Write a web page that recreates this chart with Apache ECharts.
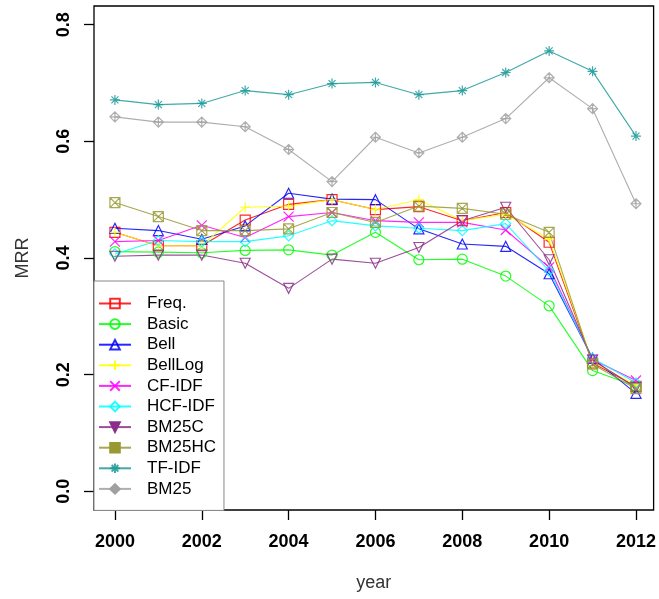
<!DOCTYPE html>
<html>
<head>
<meta charset="utf-8">
<script src="https://cdn.jsdelivr.net/npm/echarts@6/dist/echarts.min.js"></script>
<style>
html,body{margin:0;padding:0;background:#fff;}
#chart{width:659px;height:599px;}
</style>
</head>
<body>
<div id="chart"></div>
<script>
const years = [2000,2001,2002,2003,2004,2005,2006,2007,2008,2009,2010,2011,2012];
const xTicks = [2000,2002,2004,2006,2008,2010,2012];
const yTicks = [0.0,0.2,0.4,0.6,0.8];
const names = ['Freq.','Basic','Bell','BellLog','CF-IDF','HCF-IDF','BM25C','BM25HC','TF-IDF','BM25'];

const freq    = [0.444,0.421,0.421,0.465,0.492,0.500,0.483,0.488,0.464,0.478,0.427,0.220,0.180];
const basic   = [0.411,0.410,0.409,0.413,0.414,0.405,0.444,0.397,0.398,0.369,0.318,0.207,0.180];
const bell    = [0.451,0.447,0.432,0.455,0.511,0.501,0.500,0.450,0.424,0.420,0.373,0.228,0.168];
const bellLog = [0.444,0.421,0.421,0.487,0.489,0.500,0.483,0.500,0.464,0.475,0.432,0.222,0.182];
const cfIdf   = [0.428,0.430,0.456,0.435,0.471,0.478,0.464,0.461,0.461,0.448,0.384,0.226,0.190];
const hcfIdf  = [0.407,0.430,0.428,0.428,0.438,0.464,0.455,0.451,0.447,0.459,0.378,0.228,0.186];
const bm25c   = [0.403,0.405,0.405,0.391,0.348,0.398,0.391,0.418,0.464,0.487,0.397,0.225,0.178];
const bm25hc  = [0.495,0.471,0.447,0.447,0.450,0.478,0.461,0.489,0.485,0.475,0.444,0.218,0.176];
const tfIdf   = [0.671,0.663,0.665,0.687,0.680,0.699,0.701,0.680,0.687,0.718,0.755,0.720,0.609];
const bm25    = [0.642,0.633,0.633,0.625,0.586,0.531,0.607,0.580,0.607,0.639,0.709,0.656,0.493];

const allValues = [freq,basic,bell,bellLog,cfIdf,hcfIdf,bm25c,bm25hc,tfIdf,bm25];

const colors = ['#ff0000','#00ff00','#0000ff','#ffff00','#ff00ff','#00ffff','#8b2f8b','#999933','#1f9a9a','#a0a0a0'];
const legendFilled = [false,false,false,false,false,false,true,true,false,true];
const symbols = [
  'path://M0,0L10,0L10,10L0,10Z',
  'circle',
  'path://M5,0L10,9L0,9Z',
  'path://M5,0L5,10M0,5L10,5',
  'path://M0,0L10,10M10,0L0,10',
  'path://M5,0L10,5L5,10L0,5Z',
  'path://M0,1L10,1L5,10Z',
  'path://M0,0L10,0L10,10L0,10ZM0,0L10,10M10,0L0,10',
  'path://M5,0L5,10M0,5L10,5M1.5,1.5L8.5,8.5M8.5,1.5L1.5,8.5',
  'path://M5,0L10,5L5,10L0,5ZM5,0L5,10M0,5L10,5'
];

const FONT = '"Liberation Sans", Arial, Helvetica, sans-serif';

const series = names.map((n, i) => ({
  name: n,
  type: 'line',
  data: years.map((y, k) => [y, allValues[i][k]]),
  symbol: symbols[i],
  symbolSize: 10,
  showSymbol: true,
  color: colors[i],
  lineStyle: { color: colors[i], width: 1.1, opacity: 0.85 },
  itemStyle: { color: 'rgba(255,255,255,0)', borderColor: colors[i], borderWidth: 1.2, opacity: 0.85 },
  emphasis: { disabled: true },
  animation: false
}));

const legendData = names.map((n, i) => legendFilled[i]
  ? { name: n, itemStyle: { color: colors[i], borderColor: colors[i], opacity: 1 } }
  : { name: n });

const chart = echarts.init(document.getElementById('chart'), null, { renderer: 'canvas' });
chart.setOption({
  animation: false,
  backgroundColor: '#ffffff',
  grid: { left: 94, right: 3, top: 6, bottom: 89, show: true, borderColor: '#000', borderWidth: 1.3, backgroundColor: 'transparent' },
  xAxis: {
    type: 'value',
    min: 1999.518,
    max: 2012.406,
    name: 'year',
    nameLocation: 'middle',
    nameGap: 64,
    nameTextStyle: { fontFamily: FONT, fontSize: 18, color: '#333' },
    axisLine: { show: false, onZero: false },
    splitLine: { show: false },
    axisTick: { show: true, customValues: xTicks, length: 10, lineStyle: { color: '#000', width: 1.3 } },
    axisLabel: { customValues: xTicks, formatter: v => String(v), fontFamily: FONT, fontSize: 18, fontWeight: 'bold', color: '#000', margin: 23 }
  },
  yAxis: {
    type: 'value',
    min: -0.032,
    max: 0.832,
    name: 'MRR',
    nameLocation: 'middle',
    nameGap: 62,
    nameRotate: 90,
    nameTextStyle: { fontFamily: FONT, fontSize: 18, color: '#333' },
    axisLine: { show: false, onZero: false },
    splitLine: { show: false },
    axisTick: { show: true, customValues: yTicks, length: 10, lineStyle: { color: '#000', width: 1.3 } },
    axisLabel: { customValues: yTicks, rotate: 90, formatter: v => v.toFixed(1), fontFamily: FONT, fontSize: 18, fontWeight: 'bold', color: '#000', margin: 21 }
  },
  legend: {
    orient: 'vertical',
    left: 94,
    top: 281,
    data: legendData,
    itemWidth: 32,
    itemHeight: 12,
    itemGap: 3.6,
    padding: [14, 8, 13, 4],
    borderColor: '#888',
    borderWidth: 1,
    backgroundColor: '#fff',
    selectedMode: false,
    textStyle: { fontFamily: FONT, fontSize: 17, color: '#000', padding: [0, 0, 0, 11], lineHeight: 12 }
  },
  series: series
});
</script>
</body>
</html>
